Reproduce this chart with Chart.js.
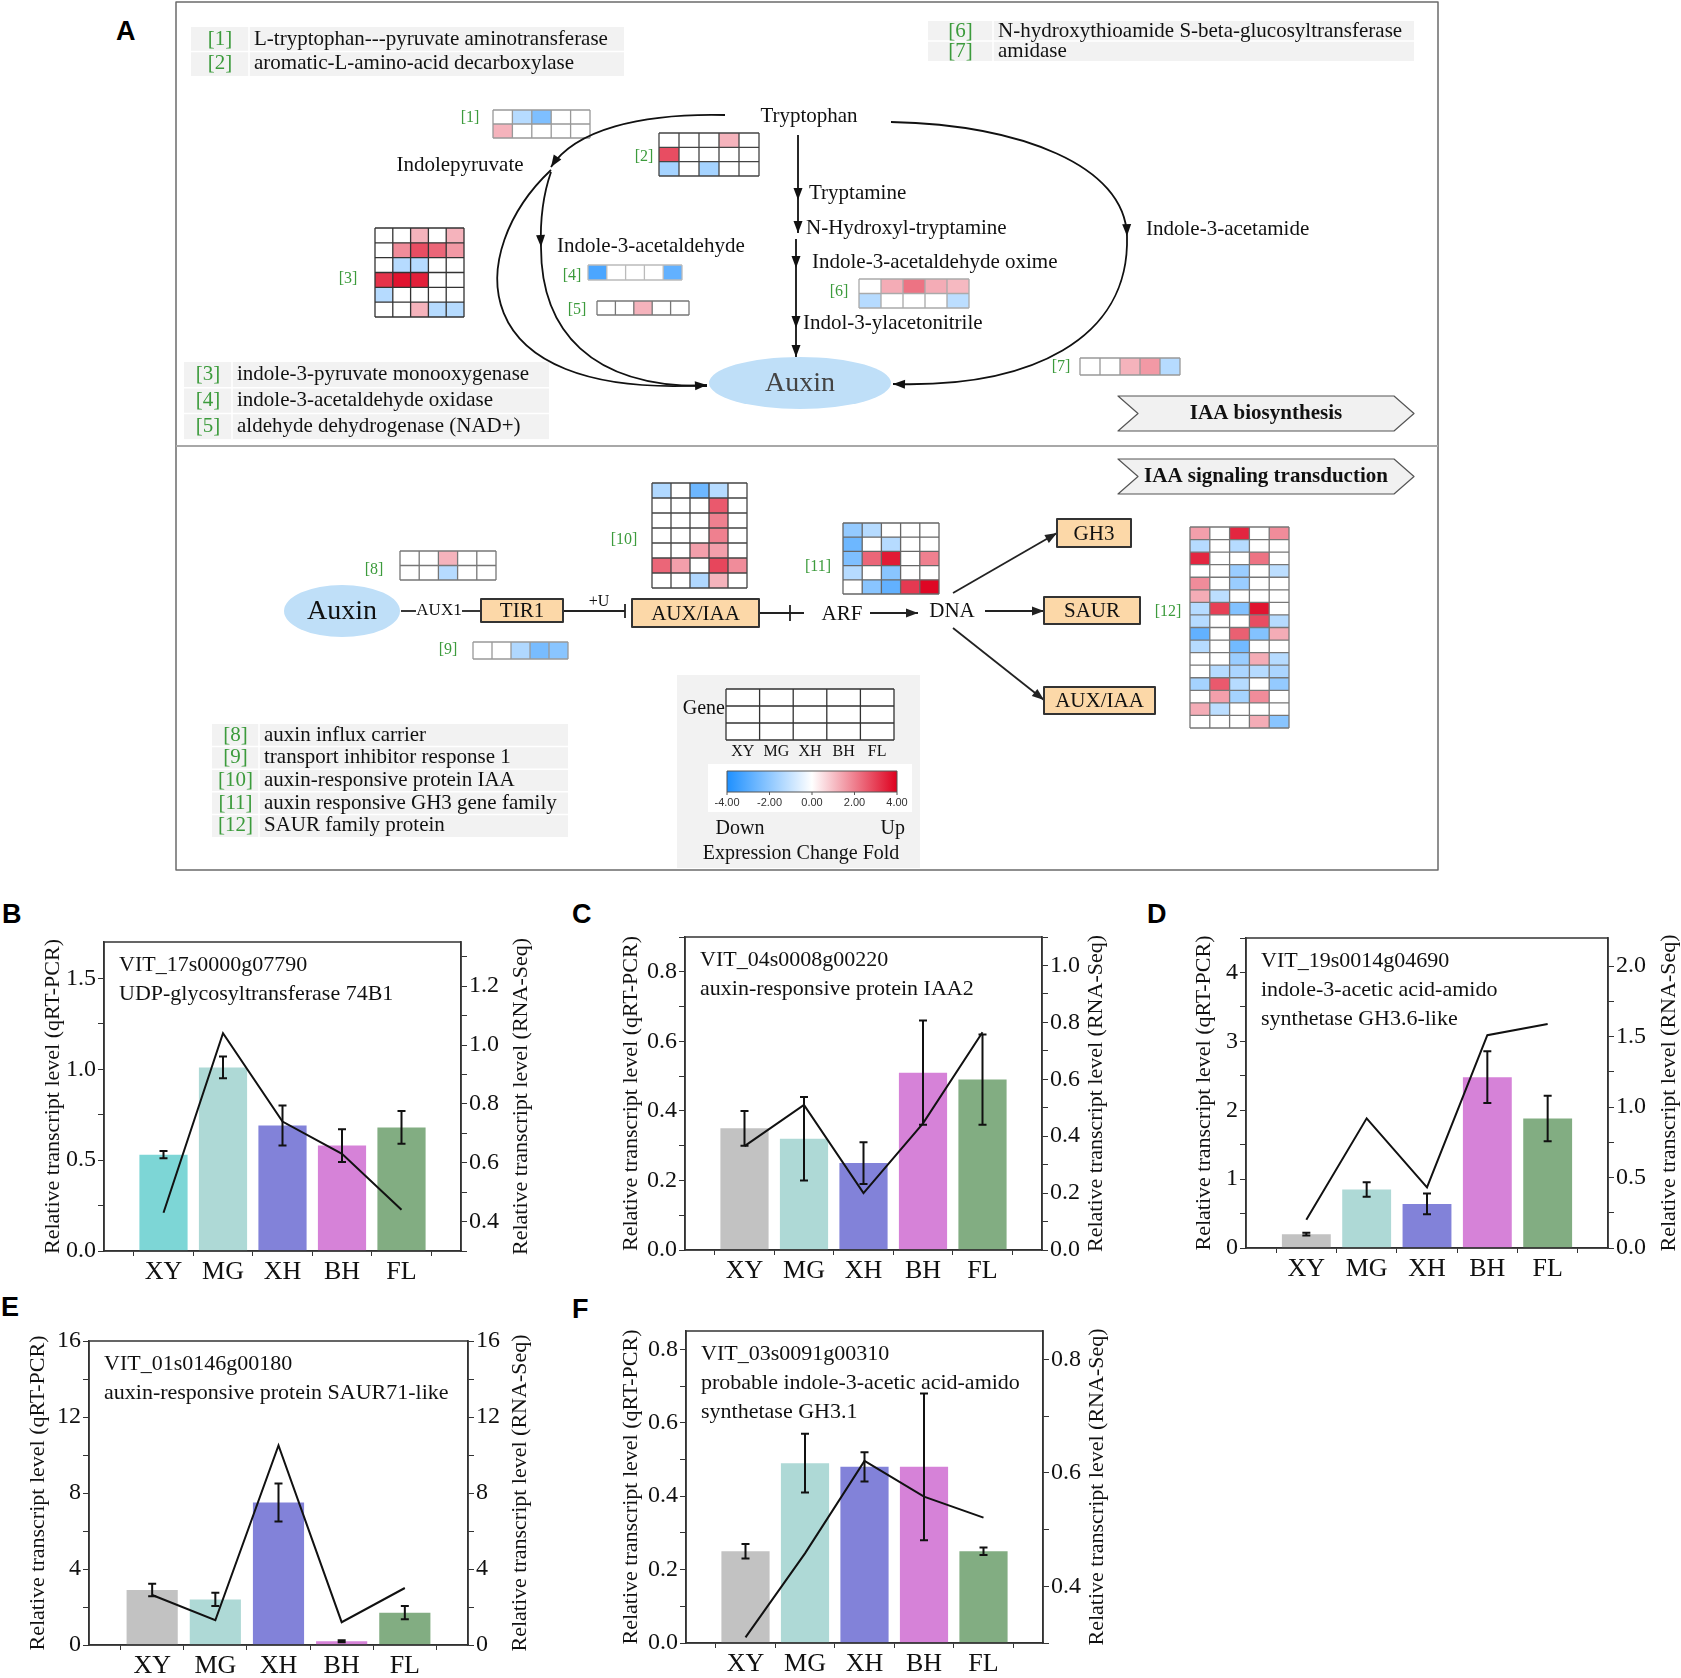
<!DOCTYPE html>
<html>
<head>
<meta charset="utf-8">
<script src="https://cdn.jsdelivr.net/npm/chart.js@4.4.0/dist/chart.umd.min.js"></script>
<style>
  body { margin: 0; background: #fff; width: 1681px; height: 1678px; position: relative; overflow: hidden; }
  .box { position: absolute; }
  .tag { position: absolute; font: bold 27px "Liberation Sans", Arial, sans-serif; line-height: 1; color: #000; }
</style>
</head>
<body>
<div class="tag" style="left:116px;top:18px">A</div>
<div class="tag" style="left:2px;top:901px">B</div>
<div class="tag" style="left:572px;top:901px">C</div>
<div class="tag" style="left:1147px;top:901px">D</div>
<div class="tag" style="left:1px;top:1294px">E</div>
<div class="tag" style="left:572px;top:1296px">F</div>
<div class="box" style="left:0;top:0;width:1681px;height:880px"><canvas id="chartA"></canvas></div>
<script>
const SERIF = "'Liberation Serif', 'Times New Roman', serif";
const AXIS = "#333";
const GREEN = "#3c9b3c";
Chart.defaults.font.family = SERIF;
Chart.defaults.color = "#111";

const STAGES = ["XY", "MG", "XH", "BH", "FL"];

// panel A: expression change (log2 fold), rows = genes, columns = stages
const heat1 = [[0, -1.3, -2.3, 0, 0], [1.2, 0, 0, 0, 0]];
const heat2 = [[0, 0, 0, 1.2, 0], [2.8, 0, 0, 0, 0], [-1.6, 0, -1.6, 0, 0]];
const heat3 = [[0, 0, 1.2, 0, 1.2], [0, 1.8, 2.8, 2.4, 1.6], [0, -1.3, -1.3, 0, 0],
               [3.2, 3.7, 3.5, 0, 0], [-1.3, 0, 0, 0, 0], [0, 0, 1.2, -1.3, -1.3]];
const heat4 = [[-3.2, 0, 0, 0, -2.8]];
const heat5 = [[0, 0, 1.2, 0, 0]];
const heat6 = [[0, 1.3, 2.2, 1.3, 1.1], [-1.3, 0, 0, 0, -1.2]];
const heat7 = [[0, 0, 1.2, 1.6, -1.3]];
const heat8 = [[0, 0, 1.2, 0, 0], [0, 0, -1.3, 0, 0]];
const heat9 = [[0, 0, -1.4, -2.4, -2.1]];
const heat10 = [[-1.4, 0, -2.6, -1.3, 0], [0, 0, 0, 2.6, 0], [0, 0, 0, 2, 0], [0, 0, 0, 2, 0],
                [0, 0, 1.5, 1.5, 0], [2.4, 1.5, 0, 2.9, 1.8], [0, 0, -1.4, 1.2, 0]];
const heat11 = [[-1.9, -1.3, 0, 0, 0], [-2.6, 0, -1.3, 0, 0], [-2.3, 2.4, 3.6, 0, 2],
                [-1.3, 0, -2.1, 0, 0], [0, -2.1, -2.8, 3.1, 3.9]];
const heat12 = [[1.5, 0, 3.4, 0, 1.8], [-1.3, 0, -1.3, 0, 0], [3.4, 0, 0, 2.2, 0], [0, 0, -1.8, 0, -1.2],
                [1.8, 0, -1.8, 0, 0], [1.3, -1.2, 0, 0, 0], [-1.3, 3, -2.2, 3.7, 0], [-1.3, 0, 0, 2.8, -1.3],
                [-2.8, 0, 2.5, -2.2, 1.3], [-1.3, 0, -2.5, 0, 0], [0, 0, -1.8, 1.3, -1.3], [0, -1.3, -1.5, -1.3, -1.5],
                [-1.6, 2.6, -1.3, 0, -1.9], [0, 1.5, -1.6, 1.8, 0], [1.3, -1.2, 0, 0, 0], [0, 0, 0, 1.3, -2.1]];
const colorTicks = [-4, -2, 0, 2, 4];

const enzymeTop = [["[1]", "L-tryptophan---pyruvate aminotransferase"], ["[2]", "aromatic-L-amino-acid decarboxylase"]];
const enzymeRight = [["[6]", "N-hydroxythioamide S-beta-glucosyltransferase"], ["[7]", "amidase"]];
const enzymeMid = [["[3]", "indole-3-pyruvate monooxygenase"], ["[4]", "indole-3-acetaldehyde oxidase"], ["[5]", "aldehyde dehydrogenase (NAD+)"]];
const enzymeSignal = [["[8]", "auxin influx carrier"], ["[9]", "transport inhibitor response 1"], ["[10]", "auxin-responsive protein IAA"],
                      ["[11]", "auxin responsive GH3 gene family"], ["[12]", "SAUR family protein"]];

// panels B-F: qRT-PCR bars (+/- error) and RNA-Seq line
const qpcrB = [0.53, 1.01, 0.69, 0.58, 0.68];
const errB = [0.02, 0.06, 0.11, 0.09, 0.09];
const rnaB = [0.43, 1.04, 0.74, 0.63, 0.44];
const qpcrC = [0.35, 0.32, 0.25, 0.51, 0.49];
const errC = [0.05, 0.12, 0.06, 0.15, 0.13];
const rnaC = [0.365, 0.51, 0.2, 0.445, 0.765];
const qpcrD = [0.2, 0.85, 0.64, 2.48, 1.88];
const errD = [0.02, 0.105, 0.15, 0.375, 0.33];
const rnaD = [0.2, 0.92, 0.43, 1.51, 1.59];
const qpcrE = [2.9, 2.4, 7.5, 0.2, 1.7];
const errE = [0.33, 0.35, 1.0, 0.05, 0.35];
const rnaE = [2.63, 1.3, 10.5, 1.2, 3.0];
const qpcrF = [0.25, 0.49, 0.48, 0.48, 0.25];
const errF = [0.02, 0.08, 0.04, 0.2, 0.01];
const rnaF = [0.31, 0.458, 0.621, 0.558, 0.521];

const geneB = ["VIT_17s0000g07790", "UDP-glycosyltransferase 74B1"];
const geneC = ["VIT_04s0008g00220", "auxin-responsive protein IAA2"];
const geneD = ["VIT_19s0014g04690", "indole-3-acetic acid-amido", "synthetase GH3.6-like"];
const geneE = ["VIT_01s0146g00180", "auxin-responsive protein SAUR71-like"];
const geneF = ["VIT_03s0091g00310", "probable indole-3-acetic acid-amido", "synthetase GH3.1"];

const barColors = ["#c2c2c2", "#aed9d6", "#8282d9", "#d682d8", "#82ad82"];
const barColorsB = ["#7dd6d6", "#aed9d6", "#8282d9", "#d682d8", "#82ad82"];

// ---------- panel A drawing helpers ----------
function heatColor(v) {
  const t = Math.min(1, Math.abs(v) / 4);
  const end = v < 0 ? [30, 144, 255] : [222, 0, 30];
  const c = end.map(e => Math.round(255 + (e - 255) * t));
  return "rgb(" + c.join(",") + ")";
}
function txt(ctx, s, x, y, o = {}) {
  ctx.save();
  ctx.font = (o.bold ? "bold " : "") + (o.size || 21) + "px " + (o.family || SERIF);
  ctx.fillStyle = o.color || "#111";
  ctx.textAlign = o.align || "left";
  ctx.textBaseline = "middle";
  if (o.max) ctx.fillText(s, x, y, o.max); else ctx.fillText(s, x, y);
  ctx.restore();
}
function seg(ctx, x1, y1, x2, y2) {
  ctx.beginPath(); ctx.moveTo(x1, y1); ctx.lineTo(x2, y2); ctx.stroke();
}
function head(ctx, x, y, ang, len = 12, half = 4.5) {
  ctx.beginPath();
  ctx.moveTo(x, y);
  ctx.lineTo(x - len * Math.cos(ang) + half * Math.sin(ang), y - len * Math.sin(ang) - half * Math.cos(ang));
  ctx.lineTo(x - len * Math.cos(ang) - half * Math.sin(ang), y - len * Math.sin(ang) + half * Math.cos(ang));
  ctx.closePath(); ctx.fill();
}
function arrow(ctx, x1, y1, x2, y2) {
  seg(ctx, x1, y1, x2, y2);
  head(ctx, x2, y2, Math.atan2(y2 - y1, x2 - x1));
}
function curve(ctx, p0, c1, c2, p3, tip) {
  ctx.beginPath(); ctx.moveTo(p0[0], p0[1]);
  ctx.bezierCurveTo(c1[0], c1[1], c2[0], c2[1], p3[0], p3[1]);
  ctx.stroke();
  if (tip) head(ctx, p3[0], p3[1], Math.atan2(p3[1] - c2[1], p3[0] - c2[0]));
}
function table(ctx, rows, x, y, w, rh, split, size) {
  ctx.fillStyle = "#f2f2f2";
  ctx.fillRect(x, y, w, rh * rows.length);
  ctx.strokeStyle = "#ffffff"; ctx.lineWidth = 1.5;
  for (let i = 1; i < rows.length; i++) seg(ctx, x, y + rh * i, x + w, y + rh * i);
  seg(ctx, split, y, split, y + rh * rows.length);
  rows.forEach(([tag, name], i) => {
    const cy = y + rh * (i + 0.5);
    txt(ctx, tag, (x + split) / 2, cy, { size, color: GREEN, align: "center" });
    txt(ctx, name, split + 5, cy, { size, max: x + w - split - 8 });
  });
}
function grid(ctx, L, fill) {
  const rows = L.data.length, cols = L.data[0].length;
  const cw = L.w / cols, ch = L.h / rows;
  L.data.forEach((row, r) => row.forEach((v, c) => {
    ctx.fillStyle = fill ? fill : heatColor(v);
    ctx.fillRect(L.x + c * cw, L.y + r * ch, cw, ch);
  }));
  ctx.strokeStyle = L.line; ctx.lineWidth = 1.3;
  ctx.beginPath();
  for (let r = 0; r <= rows; r++) { ctx.moveTo(L.x, L.y + r * ch); ctx.lineTo(L.x + L.w, L.y + r * ch); }
  for (let c = 0; c <= cols; c++) { ctx.moveTo(L.x + c * cw, L.y); ctx.lineTo(L.x + c * cw, L.y + L.h); }
  ctx.stroke();
  if (L.tag) txt(ctx, L.tag, L.tx, L.ty, { size: 16, color: GREEN, align: "center" });
}
function box(ctx, x, y, w, h, label) {
  ctx.fillStyle = "#fcd8a8"; ctx.fillRect(x, y, w, h);
  ctx.strokeStyle = "#333"; ctx.lineWidth = 2; ctx.strokeRect(x, y, w, h);
  txt(ctx, label, x + w / 2, y + h / 2 + 1, { align: "center" });
}
function banner(ctx, x0, y0, x1, y1, label) {
  const ym = (y0 + y1) / 2, n = 20;
  ctx.beginPath();
  ctx.moveTo(x0, y0); ctx.lineTo(x1 - n, y0); ctx.lineTo(x1, ym); ctx.lineTo(x1 - n, y1);
  ctx.lineTo(x0, y1); ctx.lineTo(x0 + n, ym); ctx.closePath();
  ctx.fillStyle = "#f1f1f1"; ctx.fill();
  ctx.strokeStyle = "#555"; ctx.lineWidth = 1.2; ctx.stroke();
  txt(ctx, label, (x0 + x1) / 2, ym, { bold: true, align: "center" });
}
function ellipse(ctx, cx, cy, rx, ry, label, color) {
  ctx.beginPath(); ctx.ellipse(cx, cy, rx, ry, 0, 0, Math.PI * 2);
  ctx.fillStyle = "#bfdff8"; ctx.fill();
  txt(ctx, label, cx, cy + 1, { size: 28, align: "center", color });
}

const heatLayout = [
  { data: heat1, tag: "[1]", x: 493, y: 110, w: 97, h: 28, line: "#999", tx: 470, ty: 118 },
  { data: heat2, tag: "[2]", x: 659, y: 133, w: 100, h: 43, line: "#444", tx: 644, ty: 157 },
  { data: heat3, tag: "[3]", x: 375, y: 228, w: 89, h: 89, line: "#333", tx: 348, ty: 279 },
  { data: heat4, tag: "[4]", x: 588, y: 265, w: 94, h: 15, line: "#bbb", tx: 572, ty: 276 },
  { data: heat5, tag: "[5]", x: 597, y: 301, w: 92, h: 14, line: "#777", tx: 577, ty: 310 },
  { data: heat6, tag: "[6]", x: 859, y: 279, w: 110, h: 29, line: "#aaa", tx: 839, ty: 292 },
  { data: heat7, tag: "[7]", x: 1080, y: 358, w: 100, h: 17, line: "#999", tx: 1061, ty: 367 },
  { data: heat8, tag: "[8]", x: 400, y: 551, w: 96, h: 29, line: "#777", tx: 374, ty: 570 },
  { data: heat9, tag: "[9]", x: 473, y: 642, w: 95, h: 17, line: "#999", tx: 448, ty: 650 },
  { data: heat10, tag: "[10]", x: 652, y: 483, w: 95, h: 105, line: "#444", tx: 624, ty: 540 },
  { data: heat11, tag: "[11]", x: 843, y: 523, w: 96, h: 71, line: "#666", tx: 818, ty: 567 },
  { data: heat12, tag: "[12]", x: 1190, y: 527, w: 99, h: 201, line: "#777", tx: 1168, ty: 612 }
];

function drawPathway(ctx) {
  ctx.lineJoin = "round";
  ctx.strokeStyle = "#6b6b6b"; ctx.lineWidth = 1.5;
  ctx.strokeRect(176, 2, 1262, 868);
  ctx.strokeStyle = "#a8a8a8"; ctx.lineWidth = 2;
  seg(ctx, 176, 446, 1438, 446);

  table(ctx, enzymeTop, 191, 27, 433, 24.5, 249, 21);
  table(ctx, enzymeRight, 928, 21, 486, 20, 993, 21);
  table(ctx, enzymeMid, 184, 362, 365, 25.7, 232, 21);
  table(ctx, enzymeSignal, 212, 724, 356, 22.6, 259, 21);

  heatLayout.forEach(L => grid(ctx, L));

  // IAA biosynthesis routes
  ellipse(ctx, 800, 383, 91, 26, "Auxin", "#444");
  ctx.strokeStyle = "#111"; ctx.fillStyle = "#111"; ctx.lineWidth = 1.8;
  curve(ctx, [725, 115], [640, 113], [575, 130], [551, 167], true);
  curve(ctx, [551, 170], [466, 250], [458, 400], [707, 385], true);
  curve(ctx, [551, 172], [543, 195], [540, 220], [541, 247], true);
  curve(ctx, [541, 247], [541, 330], [590, 388], [707, 386], false);
  curve(ctx, [891, 122], [1020, 125], [1125, 165], [1127, 236], true);
  curve(ctx, [1127, 236], [1130, 340], [1030, 388], [893, 384], true);
  ctx.fillStyle = "#111";
  seg(ctx, 798, 135, 798, 233);
  head(ctx, 798, 200, Math.PI / 2); head(ctx, 798, 233, Math.PI / 2);
  seg(ctx, 796, 239, 796, 357);
  head(ctx, 796, 268, Math.PI / 2); head(ctx, 796, 328, Math.PI / 2); head(ctx, 796, 357, Math.PI / 2);

  txt(ctx, "Tryptophan", 809, 116, { align: "center" });
  txt(ctx, "Indolepyruvate", 460, 165, { align: "center" });
  txt(ctx, "Indole-3-acetaldehyde", 557, 246);
  txt(ctx, "Tryptamine", 809, 193);
  txt(ctx, "N-Hydroxyl-tryptamine", 806, 228);
  txt(ctx, "Indole-3-acetaldehyde oxime", 812, 262);
  txt(ctx, "Indol-3-ylacetonitrile", 803, 323);
  txt(ctx, "Indole-3-acetamide", 1146, 229);
  banner(ctx, 1118, 396, 1414, 431, "IAA biosynthesis");
  banner(ctx, 1118, 459, 1414, 494, "IAA signaling transduction");

  // IAA signaling transduction
  ellipse(ctx, 342, 611, 58, 26, "Auxin", "#111");
  ctx.strokeStyle = "#222"; ctx.fillStyle = "#222"; ctx.lineWidth = 1.8;
  seg(ctx, 401, 611, 416, 611);
  txt(ctx, "AUX1", 439, 611, { size: 17, align: "center" });
  seg(ctx, 462, 611, 481, 611);
  seg(ctx, 563, 611, 625, 611);
  seg(ctx, 625, 604, 625, 618);
  txt(ctx, "+U", 599, 602, { size: 16, align: "center" });
  seg(ctx, 759, 613, 804, 613);
  seg(ctx, 790, 605, 790, 621);
  txt(ctx, "ARF", 842, 614, { align: "center" });
  arrow(ctx, 870, 613, 918, 613);
  txt(ctx, "DNA", 952, 611, { align: "center" });
  arrow(ctx, 953, 593, 1057, 533);
  arrow(ctx, 985, 611, 1044, 611);
  arrow(ctx, 953, 628, 1044, 700);
  box(ctx, 481, 599, 82, 23, "TIR1");
  box(ctx, 632, 599, 127, 28, "AUX/IAA");
  box(ctx, 1057, 519, 74, 28, "GH3");
  box(ctx, 1044, 597, 96, 27, "SAUR");
  box(ctx, 1044, 687, 111, 27, "AUX/IAA");

  // colour key
  ctx.fillStyle = "#f2f2f2"; ctx.fillRect(677, 675, 243, 193);
  txt(ctx, "Gene", 725, 709, { size: 20, align: "right" });
  grid(ctx, { data: [[0, 0, 0, 0, 0], [0, 0, 0, 0, 0], [0, 0, 0, 0, 0]], x: 726, y: 689, w: 168, h: 51, line: "#333" }, "#fff");
  STAGES.forEach((s, i) => txt(ctx, s, 726 + 168 / 5 * (i + 0.5), 752, { size: 16, align: "center" }));
  ctx.fillStyle = "#fff"; ctx.fillRect(708, 764, 204, 48);
  const g = ctx.createLinearGradient(727, 0, 897, 0);
  g.addColorStop(0, heatColor(-4)); g.addColorStop(0.5, "#fff"); g.addColorStop(1, heatColor(4));
  ctx.fillStyle = g; ctx.fillRect(727, 771, 170, 21);
  ctx.strokeStyle = "#555"; ctx.lineWidth = 1; ctx.strokeRect(727, 771, 170, 21);
  colorTicks.forEach(v => {
    const px = 727 + (v + 4) / 8 * 170;
    seg(ctx, px, 792, px, 795);
    txt(ctx, v.toFixed(2), px, 803, { size: 11, align: "center", color: "#333", family: "'Liberation Sans Narrow', 'Liberation Sans', sans-serif" });
  });
  txt(ctx, "Down", 740, 829, { size: 20, align: "center" });
  txt(ctx, "Up", 905, 829, { size: 20, align: "right" });
  txt(ctx, "Expression Change Fold", 801, 854, { size: 20, align: "center" });
}

const pathwayPlugin = {
  id: "pathway",
  afterDraw(chart) {
    const { ctx, scales: { x, y } } = chart;
    const x0 = x.getPixelForValue(0), y0 = y.getPixelForValue(0);
    ctx.save();
    ctx.translate(x0, y0);
    ctx.scale((x.getPixelForValue(1000) - x0) / 1000, (y.getPixelForValue(1000) - y0) / 1000);
    drawPathway(ctx);
    ctx.restore();
  }
};

new Chart(document.getElementById("chartA"), {
  type: "scatter",
  data: { datasets: [] },
  options: {
    responsive: true, maintainAspectRatio: false, animation: false, events: [],
    layout: { padding: 0 },
    plugins: { legend: { display: false }, tooltip: { enabled: false } },
    scales: {
      x: { type: "linear", min: 0, max: 1681, display: false },
      y: { type: "linear", min: 0, max: 880, reverse: true, display: false }
    }
  },
  plugins: [pathwayPlugin]
});

// ---------- panels B-F ----------
const errorBars = {
  id: "errorBars",
  afterDatasetsDraw(chart, args, opts) {
    const { ctx, scales: { x, y } } = chart;
    ctx.save();
    ctx.strokeStyle = "#111"; ctx.lineWidth = 2;
    opts.values.forEach((v, i) => {
      const px = x.getPixelForValue(i + 1);
      const hi = y.getPixelForValue(v + opts.errors[i]), lo = y.getPixelForValue(v - opts.errors[i]);
      ctx.beginPath();
      ctx.moveTo(px, hi); ctx.lineTo(px, lo);
      ctx.moveTo(px - 4, hi); ctx.lineTo(px + 4, hi);
      ctx.moveTo(px - 4, lo); ctx.lineTo(px + 4, lo);
      ctx.stroke();
    });
    const a = chart.chartArea;
    ctx.strokeStyle = AXIS; ctx.lineWidth = 1.5;
    ctx.strokeRect(a.left, a.top, a.right - a.left, a.bottom - a.top);
    ctx.fillStyle = "#111";
    ctx.font = "22px " + SERIF;
    ctx.textBaseline = "middle";
    opts.gene.forEach((s, i) => ctx.fillText(s, a.left + 15, a.top + 23 + i * 29));
    // right-hand title reads bottom-to-top like the left one
    ctx.translate(a.right + opts.gapR, (a.top + a.bottom) / 2);
    ctx.rotate(-Math.PI / 2);
    ctx.textAlign = "center";
    ctx.fillText("Relative transcript level (RNA-Seq)", 0, 0);
    ctx.restore();
  }
};

const panels = [
  { qpcr: qpcrB, err: errB, rna: rnaB, gene: geneB, colors: barColorsB, plot: [104, 942, 461, 1251], gapL: 51, gapR: 60,
    left: { min: 0, max: 1.7, step: 0.25, major: 0.5, dec: 1 }, right: { min: 0.3, max: 1.35, step: 0.1, major: 0.2, dec: 1 } },
  { qpcr: qpcrC, err: errC, rna: rnaC, gene: geneC, colors: barColors, plot: [685, 937, 1042, 1250], gapL: 54, gapR: 54,
    left: { min: 0, max: 0.9, step: 0.1, major: 0.2, dec: 1 }, right: { min: 0, max: 1.1, step: 0.1, major: 0.2, dec: 1 } },
  { qpcr: qpcrD, err: errD, rna: rnaD, gene: geneD, colors: barColors, plot: [1246, 938, 1608, 1248], gapL: 42, gapR: 61,
    left: { min: 0, max: 4.5, step: 0.5, major: 1, dec: 0 }, right: { min: 0, max: 2.2, step: 0.25, major: 0.5, dec: 1 } },
  { qpcr: qpcrE, err: errE, rna: rnaE, gene: geneE, colors: barColors, plot: [89, 1341, 468, 1645], gapL: 51, gapR: 52,
    left: { min: 0, max: 16, step: 2, major: 4, dec: 0 }, right: { min: 0, max: 16, step: 2, major: 4, dec: 0 } },
  { qpcr: qpcrF, err: errF, rna: rnaF, gene: geneF, colors: barColors, plot: [686, 1331, 1043, 1643], gapL: 55, gapR: 54,
    left: { min: 0, max: 0.85, step: 0.1, major: 0.2, dec: 1 }, right: { min: 0.3, max: 0.85, step: 0.1, major: 0.2, dec: 1 } }
];

const isMajor = (v, m) => Math.abs(v / m - Math.round(v / m)) < 1e-6;

function yAxis(spec, pos, title, w) {
  return {
    type: "linear", position: pos, min: spec.min, max: spec.max,
    afterFit: s => { s.width = w; },
    border: { display: true, color: AXIS, width: 1.5 },
    grid: { drawOnChartArea: false, drawTicks: true, tickLength: 6, color: AXIS },
    ticks: {
      stepSize: spec.step, includeBounds: false, autoSkip: false, padding: 2,
      font: { size: 24 }, color: "#111",
      callback: v => isMajor(v, spec.major) ? v.toFixed(spec.dec) : ""
    },
    title: { display: !!title, text: title, font: { size: 22 }, color: "#111", padding: 0 }
  };
}

panels.forEach(p => {
  const wL = p.gapL + 13, wR = p.gapR + 13, padTop = 18, hX = 33;
  const [l, t, r, b] = p.plot;
  const div = document.createElement("div");
  div.className = "box";
  div.style.left = (l - wL) + "px";
  div.style.top = (t - padTop) + "px";
  div.style.width = (r - l + wL + wR) + "px";
  div.style.height = (b - t + padTop + hX) + "px";
  const cv = document.createElement("canvas");
  div.appendChild(cv);
  document.body.appendChild(div);

  new Chart(cv, {
    type: "bar",
    data: {
      datasets: [
        { type: "line", data: p.rna.map((v, i) => ({ x: i + 1, y: v })), yAxisID: "y1",
          borderColor: "#111", borderWidth: 2, pointRadius: 0, tension: 0, order: 0 },
        { type: "bar", data: p.qpcr.map((v, i) => ({ x: i + 1, y: v })), yAxisID: "y",
          backgroundColor: p.colors, barPercentage: 1.62, categoryPercentage: 1, order: 1 }
      ]
    },
    options: {
      responsive: true, maintainAspectRatio: false, animation: false, events: [],
      layout: { padding: { top: padTop, left: 0, right: 0, bottom: 0 } },
      plugins: {
        legend: { display: false }, tooltip: { enabled: false },
        errorBars: { values: p.qpcr, errors: p.err, gene: p.gene, gapR: p.gapR }
      },
      scales: {
        x: {
          type: "linear", min: 0, max: 6, offset: false,
          afterFit: s => { s.height = hX; },
          border: { display: true, color: AXIS, width: 1.5 },
          grid: {
            drawOnChartArea: false, offset: false, tickLength: 5,
            tickColor: c => (c.tick && Math.abs((c.tick.value % 1) - 0.5) < 1e-6) ? AXIS : "rgba(0,0,0,0)"
          },
          ticks: {
            stepSize: 0.5, autoSkip: false, maxRotation: 0, padding: 1,
            font: { size: 26 }, color: "#111",
            callback: v => (Number.isInteger(v) && v >= 1 && v <= 5) ? STAGES[v - 1] : ""
          }
        },
        y: yAxis(p.left, "left", "Relative transcript level (qRT-PCR)", wL),
        y1: yAxis(p.right, "right", "", wR)
      }
    },
    plugins: [errorBars]
  });
});
</script>
</body>
</html>
